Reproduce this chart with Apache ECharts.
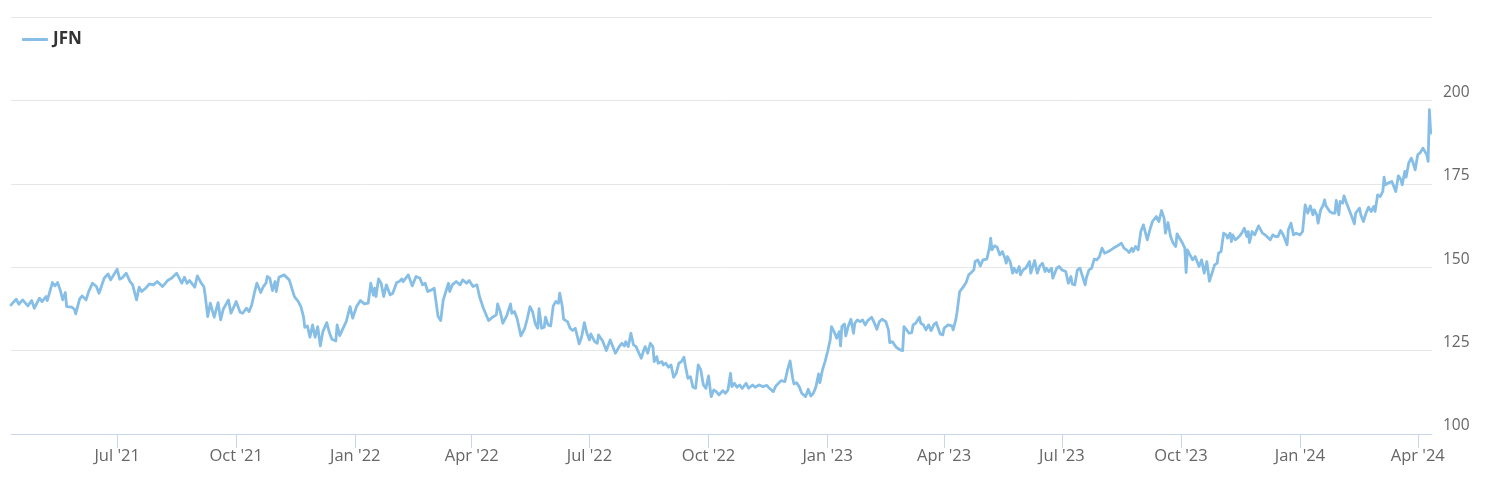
<!DOCTYPE html>
<html>
<head>
<meta charset="utf-8">
<script src="https://cdn.jsdelivr.net/npm/echarts@6/dist/echarts.min.js"></script>
<style>
html,body{margin:0;padding:0;background:#fff;}
#chart{width:1504px;height:480px;}
</style>
</head>
<body>
<div id="chart"></div>
<script>
const seriesName = 'JFN';

const dates = [
'2021-04-10','2021-04-14','2021-04-16','2021-04-19','2021-04-23','2021-04-26','2021-04-28','2021-05-02','2021-05-04','2021-05-07',
'2021-05-08','2021-05-12','2021-05-14','2021-05-16','2021-05-18','2021-05-20','2021-05-22','2021-05-23','2021-05-27','2021-05-29',
'2021-05-30','2021-06-02','2021-06-04','2021-06-07','2021-06-09','2021-06-12','2021-06-15','2021-06-17','2021-06-21','2021-06-24',
'2021-06-26','2021-07-01','2021-07-03','2021-07-05','2021-07-08','2021-07-11','2021-07-13','2021-07-16','2021-07-18','2021-07-20',
'2021-07-23','2021-07-26','2021-07-29','2021-08-01','2021-08-05','2021-08-09','2021-08-12','2021-08-13','2021-08-16','2021-08-20',
'2021-08-22','2021-08-24','2021-08-26','2021-08-30','2021-09-01','2021-09-04','2021-09-06','2021-09-07','2021-09-09','2021-09-11',
'2021-09-14','2021-09-17','2021-09-19','2021-09-21','2021-09-25','2021-09-27','2021-10-01','2021-10-04',
'2021-10-06','2021-10-09','2021-10-11','2021-10-13','2021-10-15','2021-10-17','2021-10-20','2021-10-22','2021-10-24','2021-10-25',
'2021-10-27','2021-10-29','2021-10-31','2021-11-01','2021-11-03','2021-11-07','2021-11-11','2021-11-15','2021-11-18','2021-11-20',
'2021-11-22','2021-11-23','2021-11-25','2021-11-27','2021-11-29','2021-12-01','2021-12-03','2021-12-05','2021-12-07','2021-12-10',
'2021-12-12','2021-12-14','2021-12-17','2021-12-18','2021-12-20','2021-12-22','2021-12-25','2021-12-28','2021-12-30','2022-01-02',
'2022-01-05','2022-01-08','2022-01-11','2022-01-13','2022-01-15','2022-01-16','2022-01-17','2022-01-19','2022-01-21','2022-01-23',
'2022-01-25','2022-01-28','2022-01-30','2022-02-02','2022-02-04','2022-02-06','2022-02-07','2022-02-11','2022-02-14','2022-02-17',
'2022-02-20','2022-02-22','2022-02-24','2022-02-26','2022-03-01','2022-03-03','2022-03-06','2022-03-08','2022-03-10','2022-03-12',
'2022-03-14','2022-03-15','2022-03-17','2022-03-20','2022-03-23','2022-03-25','2022-03-28','2022-03-30','2022-04-02','2022-04-05',
'2022-04-06','2022-04-07',
'2022-04-10','2022-04-14','2022-04-17','2022-04-20','2022-04-21','2022-04-23','2022-04-25','2022-04-26','2022-04-28','2022-05-01',
'2022-05-02','2022-05-04','2022-05-06','2022-05-07','2022-05-09','2022-05-12','2022-05-14','2022-05-16','2022-05-18','2022-05-20',
'2022-05-22','2022-05-23','2022-05-25','2022-05-27','2022-05-28','2022-05-30','2022-06-01','2022-06-03','2022-06-05','2022-06-07',
'2022-06-08','2022-06-10','2022-06-11','2022-06-14','2022-06-16','2022-06-18','2022-06-20','2022-06-21','2022-06-23','2022-06-25',
'2022-06-27','2022-06-29','2022-07-01','2022-07-02','2022-07-05','2022-07-07','2022-07-08','2022-07-11','2022-07-14','2022-07-17',
'2022-07-19','2022-07-21','2022-07-24','2022-07-26','2022-07-28','2022-07-29','2022-07-31','2022-08-02','2022-08-04','2022-08-06',
'2022-08-08','2022-08-10','2022-08-12','2022-08-13','2022-08-15','2022-08-17','2022-08-19','2022-08-20','2022-08-22','2022-08-23',
'2022-08-26','2022-08-27','2022-08-29','2022-08-31','2022-09-02','2022-09-04','2022-09-06','2022-09-08','2022-09-10','2022-09-12',
'2022-09-13','2022-09-15','2022-09-17','2022-09-19','2022-09-21','2022-09-23','2022-09-25','2022-09-27','2022-09-29','2022-10-01',
'2022-10-03','2022-10-05','2022-10-07','2022-10-09',
'2022-10-12','2022-10-14','2022-10-16','2022-10-18','2022-10-19','2022-10-21','2022-10-23','2022-10-25','2022-10-27','2022-10-30',
'2022-11-01','2022-11-04','2022-11-06','2022-11-09','2022-11-12','2022-11-15','2022-11-17','2022-11-20','2022-11-22','2022-11-26',
'2022-11-29','2022-12-01','2022-12-03','2022-12-05','2022-12-06','2022-12-08','2022-12-10','2022-12-12','2022-12-15','2022-12-17',
'2022-12-19','2022-12-21','2022-12-23','2022-12-25','2022-12-26','2022-12-28','2022-12-30','2023-01-01','2023-01-03','2023-01-04',
'2023-01-05','2023-01-06','2023-01-08','2023-01-10','2023-01-11','2023-01-12','2023-01-14','2023-01-15','2023-01-17','2023-01-19',
'2023-01-21','2023-01-22','2023-01-24','2023-01-26','2023-01-28','2023-01-30','2023-02-01','2023-02-04','2023-02-06','2023-02-08',
'2023-02-10','2023-02-12','2023-02-15','2023-02-17','2023-02-18','2023-02-20','2023-02-23','2023-02-26','2023-02-28','2023-03-01',
'2023-03-03','2023-03-05','2023-03-07','2023-03-08','2023-03-10','2023-03-13','2023-03-14','2023-03-16','2023-03-18','2023-03-20',
'2023-03-22','2023-03-24','2023-03-26','2023-03-27','2023-03-29','2023-03-31','2023-04-01','2023-04-04','2023-04-07','2023-04-08',
'2023-04-10','2023-04-11',
'2023-04-13','2023-04-16','2023-04-18','2023-04-20','2023-04-22','2023-04-24','2023-04-25','2023-04-27','2023-04-29','2023-05-01',
'2023-05-04','2023-05-06','2023-05-07','2023-05-08','2023-05-10','2023-05-12','2023-05-14','2023-05-16','2023-05-18','2023-05-19',
'2023-05-20','2023-05-22','2023-05-24','2023-05-25','2023-05-27','2023-05-29','2023-05-30','2023-06-01','2023-06-03','2023-06-06',
'2023-06-07','2023-06-10','2023-06-12','2023-06-14','2023-06-16','2023-06-18','2023-06-19','2023-06-21','2023-06-23','2023-06-24',
'2023-06-27','2023-06-29','2023-07-01','2023-07-02','2023-07-04','2023-07-06','2023-07-08','2023-07-09','2023-07-11','2023-07-13',
'2023-07-15','2023-07-17','2023-07-19','2023-07-20','2023-07-22','2023-07-24','2023-07-26','2023-07-28','2023-07-30','2023-08-01',
'2023-08-03','2023-08-06','2023-08-08','2023-08-11','2023-08-13','2023-08-16','2023-08-18','2023-08-20','2023-08-22','2023-08-24',
'2023-08-25','2023-08-27','2023-08-29','2023-08-31','2023-09-02','2023-09-04','2023-09-05','2023-09-07','2023-09-09','2023-09-12',
'2023-09-14','2023-09-16','2023-09-18','2023-09-19','2023-09-21','2023-09-23','2023-09-25','2023-09-27','2023-09-28','2023-09-30',
'2023-10-02','2023-10-04','2023-10-05','2023-10-06','2023-10-08','2023-10-10','2023-10-12','2023-10-13','2023-10-15',
'2023-10-17','2023-10-19','2023-10-21','2023-10-23','2023-10-25','2023-10-27','2023-10-29','2023-10-30','2023-11-01','2023-11-03',
'2023-11-05','2023-11-06','2023-11-08','2023-11-09','2023-11-10','2023-11-12','2023-11-15','2023-11-17','2023-11-19','2023-11-21',
'2023-11-22','2023-11-23','2023-11-25','2023-11-27','2023-11-30','2023-12-03','2023-12-05','2023-12-09','2023-12-11','2023-12-13',
'2023-12-15','2023-12-17','2023-12-19','2023-12-22','2023-12-23','2023-12-25','2023-12-27','2023-12-29','2024-01-01','2024-01-03',
'2024-01-05','2024-01-07','2024-01-09','2024-01-11','2024-01-12','2024-01-14','2024-01-15','2024-01-17','2024-01-19','2024-01-20',
'2024-01-21','2024-01-24','2024-01-26','2024-01-28','2024-01-29','2024-01-31','2024-02-01','2024-02-03','2024-02-04','2024-02-06',
'2024-02-08','2024-02-10','2024-02-12','2024-02-13','2024-02-16','2024-02-17','2024-02-19','2024-02-21','2024-02-23','2024-02-25',
'2024-02-27','2024-02-28','2024-03-01','2024-03-03','2024-03-05','2024-03-06','2024-03-07','2024-03-09','2024-03-12','2024-03-13',
'2024-03-15','2024-03-17','2024-03-19','2024-03-20','2024-03-22','2024-03-23','2024-03-25','2024-03-27','2024-03-28','2024-03-30',
'2024-03-31','2024-04-01','2024-04-03','2024-04-05','2024-04-06','2024-04-08','2024-04-09','2024-04-10','2024-04-11'
];

const values = [
138.7,140.4,138.9,140.2,138.4,140.0,137.7,140.7,139.7,141.2,
140.0,145.4,144.4,145.4,143.2,140.2,142.4,138.2,138.0,137.4,
136.0,140.4,141.4,140.2,142.7,145.2,144.2,142.2,146.7,148.0,
146.2,149.4,146.4,146.8,148.2,145.7,144.7,140.2,144.0,142.7,
143.7,145.0,144.7,145.7,144.2,146.0,146.7,146.2,148.2,145.2,
147.0,145.2,146.0,144.0,147.4,145.2,144.2,141.7,135.2,139.2,
135.0,139.4,134.2,137.4,140.2,136.2,139.7,136.5,
136.2,137.7,136.7,138.7,142.2,145.2,142.4,144.2,145.2,147.2,
146.7,143.0,145.7,142.7,147.0,147.7,146.2,141.2,139.7,138.2,
135.2,132.0,132.4,129.0,132.7,129.0,132.2,126.4,130.7,133.4,
130.4,128.4,127.9,132.7,129.5,131.2,133.7,138.2,134.7,138.2,
140.0,139.0,139.2,145.2,141.6,143.7,141.2,146.5,145.2,141.2,
144.7,141.7,142.2,145.4,145.7,146.5,145.7,147.7,144.4,147.2,
146.7,144.7,145.2,142.7,143.2,143.7,135.2,134.0,140.2,142.7,
145.2,142.7,144.7,145.7,144.7,146.2,145.2,146.0,144.2,144.7,
143.0,141.2,
137.7,134.0,135.0,135.7,139.0,136.7,133.2,132.7,135.4,139.0,
136.2,136.7,134.7,135.0,129.4,131.7,134.7,138.2,136.7,133.2,
131.7,137.6,131.7,132.0,135.0,132.7,132.4,138.4,139.7,139.2,
142.2,138.2,134.4,133.7,131.7,131.0,131.7,130.2,127.0,129.2,
133.4,130.2,128.2,130.0,127.7,127.2,129.7,128.0,125.0,128.2,
126.2,124.2,126.2,127.2,126.4,127.7,126.2,130.2,126.7,126.2,
124.4,122.7,125.2,126.2,124.2,127.2,126.2,121.7,123.2,121.2,
121.7,120.7,121.2,120.0,120.7,117.0,118.2,121.2,121.7,123.0,
120.7,116.7,117.2,114.0,113.7,120.7,119.2,114.7,113.7,117.4,
111.2,113.2,112.7,111.7,
113.0,112.2,113.2,118.2,114.2,115.2,114.0,114.7,113.7,115.2,
113.7,114.7,114.0,114.7,114.2,114.6,113.7,112.7,114.4,116.0,
115.7,119.2,121.9,116.7,115.0,115.4,114.2,112.2,111.2,113.4,
111.4,112.2,114.2,118.0,115.4,119.2,121.7,124.7,128.2,132.2,
132.7,130.7,128.7,130.7,126.4,132.2,133.0,129.4,132.4,134.4,
130.2,133.2,134.2,133.7,134.2,132.7,134.0,135.0,133.4,131.4,
133.7,134.4,133.7,131.2,127.4,127.7,126.0,125.2,125.0,132.2,
131.2,130.2,130.4,132.7,133.2,135.0,133.2,132.7,131.2,132.7,
131.0,132.7,133.4,132.2,130.0,129.7,131.7,132.7,132.4,131.2,
134.2,136.5,
142.7,144.2,145.4,147.7,148.4,149.2,151.7,152.2,150.4,152.2,
152.4,155.7,158.7,155.2,156.4,156.0,153.7,154.7,152.7,151.2,
153.2,151.7,148.2,149.7,148.4,150.2,147.7,149.2,149.7,151.7,
148.2,152.0,148.2,150.4,151.2,148.7,149.7,148.7,149.7,146.7,
149.7,150.2,149.2,149.7,148.7,145.2,147.2,145.0,144.7,149.2,
149.7,147.2,144.7,146.9,149.2,149.7,152.4,152.2,153.2,155.7,
154.2,154.7,155.2,156.0,156.4,157.2,155.7,155.2,154.4,155.7,
154.7,156.2,155.2,160.7,162.7,159.7,158.2,161.2,163.7,165.2,
163.7,167.0,164.7,160.2,163.4,159.2,157.2,156.2,160.0,158.7,
157.4,155.7,148.4,155.2,153.7,152.2,153.2,153.7,150.2,
152.2,148.2,151.7,145.8,148.2,150.7,151.2,154.2,154.7,160.2,
159.7,158.7,160.2,157.7,159.7,158.2,159.2,160.2,161.7,159.2,
160.7,157.4,160.7,159.7,162.4,160.2,159.7,158.2,159.7,159.2,
159.2,161.0,159.7,156.7,161.2,163.2,159.7,160.2,159.7,160.7,
168.7,166.2,168.4,165.7,167.2,165.7,163.2,167.2,168.7,170.2,
168.4,166.7,166.2,166.2,170.0,165.7,169.7,169.2,171.4,169.2,
167.2,165.2,163.0,166.2,167.7,165.7,163.7,166.2,168.0,166.7,
168.2,166.7,171.7,171.2,172.7,177.0,174.7,175.2,175.7,174.7,
172.7,177.4,176.2,174.7,178.7,177.0,181.2,182.7,181.7,179.2,
178.7,183.7,184.4,185.7,186.2,183.7,181.7,197.2,190.2
];

const xMin = '2021-04-10';
const xMax = '2024-04-12';
const tickDates = ['2021-07-01','2021-10-01','2022-01-01','2022-04-01','2022-07-01','2022-10-01','2023-01-01','2023-04-01','2023-07-01','2023-10-01','2024-01-01','2024-04-01'];
const tickLabels = ["Jul '21","Oct '21","Jan '22","Apr '22","Jul '22","Oct '22","Jan '23","Apr '23","Jul '23","Oct '23","Jan '24","Apr '24"];
const yMin = 100, yMax = 225, yStep = 25;
const hiddenYLabels = [225];

function toTime(s){ const p = s.split('-').map(Number); return Date.UTC(p[0], p[1]-1, p[2]); }
const tickTimes = tickDates.map(toTime);
const seriesData = dates.map((d, i) => [toTime(d), values[i]]);

const lineColor = '#86bee6';
const chart = echarts.init(document.getElementById('chart'), null, {renderer: 'canvas'});
const font = "'Open Sans', 'Noto Sans', sans-serif";
chart.setOption({
  animation: false,
  backgroundColor: '#ffffff',
  textStyle: {fontFamily: font},
  legend: {
    show: true,
    left: 22,
    top: 31,
    padding: 0,
    itemWidth: 26,
    itemHeight: 3,
    itemGap: 10,
    icon: 'roundRect',
    data: [seriesName],
    itemStyle: {color: lineColor, borderWidth: 0},
    textStyle: {fontFamily: font, fontSize: 17, fontWeight: 'bold', color: '#333333'}
  },
  grid: {left: 11, right: 72, top: 17, bottom: 46, containLabel: false},
  xAxis: {
    type: 'value',
    min: toTime(xMin),
    max: toTime(xMax),
    axisLine: {show: true, lineStyle: {color: '#ccd6eb', width: 1}},
    axisTick: {show: true, length: 14, lineStyle: {color: '#ccd6eb', width: 1}, customValues: tickTimes},
    axisLabel: {
      customValues: tickTimes,
      color: '#666666',
      fontSize: 16.5,
      fontFamily: font,
      margin: 14,
      formatter: function (val) {
        let best = -1, bd = Infinity;
        tickTimes.forEach((t, i) => { const dd = Math.abs(t - val); if (dd < bd) { bd = dd; best = i; } });
        return bd < 86400000 * 2 ? tickLabels[best] : '';
      }
    },
    splitLine: {show: false}
  },
  yAxis: {
    type: 'value',
    position: 'right',
    min: yMin,
    max: yMax,
    interval: yStep,
    axisLine: {show: false},
    axisTick: {show: false},
    splitLine: {show: true, lineStyle: {color: '#e6e6e6', width: 1}},
    axisLabel: {
      color: '#666666',
      fontSize: 15.5,
      fontFamily: font,
      margin: 11,
      verticalAlign: 'bottom',
      padding: [0, 0, 0, 0],
      formatter: function (v) { return hiddenYLabels.indexOf(v) >= 0 ? '' : String(v); }
    }
  },
  series: [{
    name: seriesName,
    type: 'line',
    data: seriesData,
    symbol: 'none',
    showSymbol: false,
    smooth: false,
    lineStyle: {color: lineColor, width: 2.8, join: 'round', cap: 'round'},
    itemStyle: {color: lineColor},
    emphasis: {disabled: true}
  }]
});
</script>
</body>
</html>
